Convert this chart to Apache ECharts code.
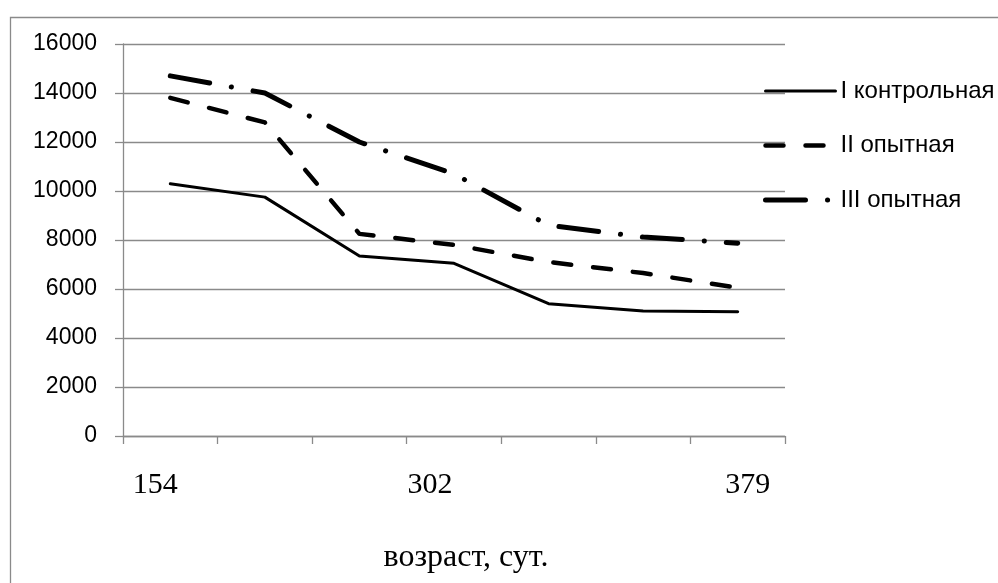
<!DOCTYPE html>
<html>
<head>
<meta charset="utf-8">
<script src="https://cdn.jsdelivr.net/npm/echarts@6/dist/echarts.min.js"></script>
<style>html,body{margin:0;padding:0;background:#fff;}#c{width:998px;height:583px;}</style>
</head>
<body>
<div id="c"></div>
<script>
var categories = ['154', '', '', '302', '', '', '379'];
var tickLabels = ['154', '', '', '302', '', '', '379'];
var seriesNames = ['I контрольная', 'II опытная', 'III опытная'];
var seriesI = [10300, 9750, 7350, 7050, 5400, 5100, 5070];
var seriesII = [13800, 12800, 8250, 7800, 7100, 6650, 6050];
var seriesIII = [14700, 14000, 12000, 10700, 8600, 8120, 7870];
var yTicks = [0, 2000, 4000, 6000, 8000, 10000, 12000, 14000, 16000];

var labelShift = {'154': 'a', '302': 'b', '379': 'c'};
var chart = echarts.init(document.getElementById('c'), null, {renderer: 'canvas'});
var sansFont = 'Liberation Sans';
var serifFont = 'Liberation Serif';
var styles = [
  {color: '#000', width: 3, type: 'solid', cap: 'round', join: 'round'},
  {color: '#000', width: 4.5, type: [18, 22], cap: 'round', join: 'round'},
  {color: '#000', width: 5, type: [40, 22, 0.1, 22], cap: 'round', join: 'round'}
];
chart.setOption({
  animation: false,
  backgroundColor: '#fff',
  graphic: [{
    type: 'rect', left: 8, top: 15, shape: {x: 0, y: 0, width: 1100, height: 700},
    style: {fill: 'none', stroke: '#8a8a8a', lineWidth: 1.3}, silent: true
  }],
  grid: {left: 123, right: 213, top: 44, bottom: 147},
  legend: {
    orient: 'vertical', left: 758, top: 74,
    itemWidth: 70, itemHeight: 14, itemGap: 30.5,
    itemStyle: {color: 'transparent', borderWidth: 0, opacity: 0},
    textStyle: {fontFamily: sansFont, fontSize: 24, color: '#000'},
    data: seriesNames.map(function (n, i) { return {name: n, lineStyle: styles[i]}; })
  },
  xAxis: {
    type: 'category', data: categories, boundaryGap: true,
    axisLine: {lineStyle: {color: '#8a8a8a', width: 1.3}},
    axisTick: {show: true, length: 8, lineStyle: {color: '#8a8a8a', width: 1.3}},
    axisLabel: {
      interval: 0, margin: 34,
      formatter: function (v, i) { var t = tickLabels[i]; return t ? '{' + labelShift[t] + '|' + t + '}' : ''; },
      rich: {
        a: {fontFamily: serifFont, fontSize: 30, color: '#000', padding: [0, 30, 0, 0]},
        b: {fontFamily: serifFont, fontSize: 30, color: '#000', padding: [0, 48, 0, 0]},
        c: {fontFamily: serifFont, fontSize: 30, color: '#000', padding: [0, 0, 0, 20]}
      }
    },
    name: 'возраст, сут.', nameLocation: 'middle', nameGap: 106,
    nameTextStyle: {fontFamily: serifFont, fontSize: 32, color: '#000', padding: [0, 0, 0, 24]}
  },
  yAxis: {
    type: 'value', min: yTicks[0], max: yTicks[yTicks.length - 1], interval: 2000,
    axisLine: {show: true, lineStyle: {color: '#8a8a8a', width: 1.3}},
    axisTick: {show: true, length: 8, lineStyle: {color: '#8a8a8a', width: 1.3}},
    axisLabel: {margin: 26, fontFamily: sansFont, fontSize: 23, color: '#000',
      formatter: function (v) { return String(v); }},
    splitLine: {lineStyle: {color: '#8a8a8a', width: 1.3}}
  },
  series: [
    {name: seriesNames[0], type: 'line', data: seriesI, symbol: 'none', lineStyle: styles[0], itemStyle: {color: '#000'}},
    {name: seriesNames[1], type: 'line', data: seriesII, symbol: 'none', lineStyle: styles[1], itemStyle: {color: '#000'}},
    {name: seriesNames[2], type: 'line', data: seriesIII, symbol: 'none', lineStyle: styles[2], itemStyle: {color: '#000'}}
  ]
});
</script>
</body>
</html>
